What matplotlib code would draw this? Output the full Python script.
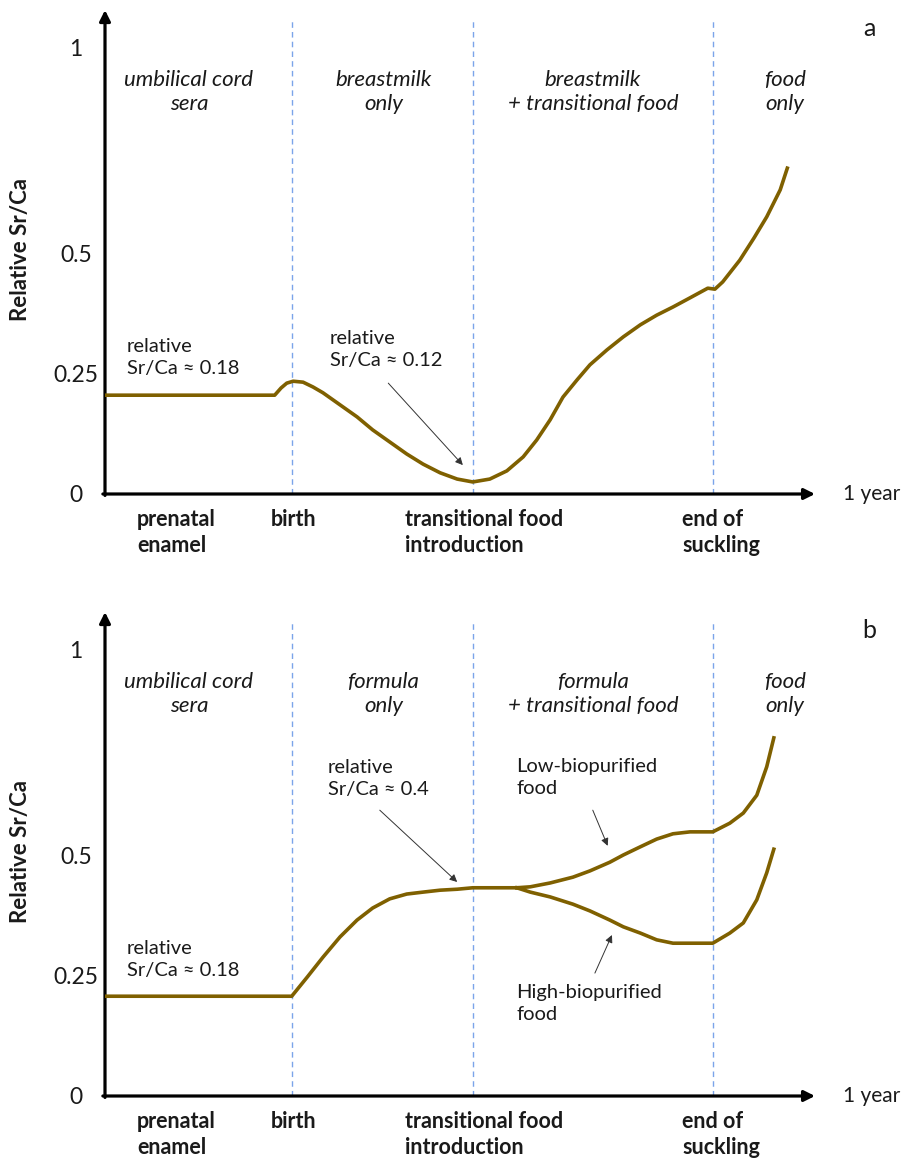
import matplotlib
matplotlib.use("Agg")
import matplotlib.pyplot as plt

plt.rcParams['font.family'] = ['Lato', 'DejaVu Sans']

# x is the fraction of the time axis (prenatal -> 1 year), y is relative Sr/Ca
# panel a: breastfed
a_x = [0.000, 0.239, 0.248, 0.256, 0.265, 0.279, 0.293, 0.307, 0.331, 0.355,
       0.377, 0.401, 0.425, 0.448, 0.472, 0.496, 0.518, 0.542, 0.566, 0.589,
       0.608, 0.627, 0.645, 0.665, 0.683, 0.707, 0.730, 0.754, 0.777, 0.800,
       0.824, 0.849, 0.859, 0.870, 0.894, 0.914, 0.932, 0.951, 0.961]
a_y = [0.205, 0.205, 0.220, 0.230, 0.234, 0.232, 0.222, 0.210, 0.185, 0.160,
       0.133, 0.108, 0.083, 0.062, 0.044, 0.031, 0.025, 0.031, 0.048, 0.077,
       0.112, 0.154, 0.201, 0.237, 0.268, 0.299, 0.326, 0.351, 0.371, 0.388,
       0.407, 0.427, 0.425, 0.440, 0.485, 0.531, 0.575, 0.631, 0.676]

# panel b: formula fed, common part then two branches
b_x = [0.000, 0.263, 0.285, 0.307, 0.331, 0.355, 0.377, 0.401, 0.425, 0.448,
       0.472, 0.496, 0.518, 0.552, 0.580]
b_y = [0.207, 0.207, 0.247, 0.288, 0.330, 0.365, 0.390, 0.409, 0.419, 0.423,
       0.427, 0.429, 0.432, 0.432, 0.432]
branch_x = [0.580, 0.599, 0.627, 0.659, 0.683, 0.711, 0.730, 0.754, 0.777, 0.800,
            0.824, 0.856, 0.880, 0.899, 0.918, 0.932, 0.942]
low_bio_y = [0.432, 0.434, 0.442, 0.454, 0.467, 0.485, 0.500, 0.517, 0.533, 0.544,
             0.548, 0.548, 0.566, 0.587, 0.624, 0.683, 0.743]
high_bio_y = [0.432, 0.423, 0.413, 0.398, 0.384, 0.365, 0.351, 0.338, 0.324, 0.317,
              0.317, 0.317, 0.338, 0.359, 0.407, 0.463, 0.512]

events = [0.263, 0.518, 0.856]  # birth, transitional food, end of suckling
ytick_pos = [0, 0.251, 0.5, 0.927]
ytick_lab = ['0', '0.25', '0.5', '1']

periods_a = ['umbilical cord\nsera', 'breastmilk\nonly', 'breastmilk\n+ transitional food', 'food\nonly']
periods_b = ['umbilical cord\nsera', 'formula\nonly', 'formula\n+ transitional food', 'food\nonly']
period_x = [0.118, 0.392, 0.687, 0.958]

CURVE = '#7f6000'
EVENT = '#4f86e3'
TXT = '#1a1a1a'
YTOP = 1.004

fig = plt.figure(figsize=(9.02, 11.58), dpi=100)


def make_panel(bottom_px, periods, letter):
    ax = fig.add_axes([105 / 902, (1158 - bottom_px) / 1158, 710 / 902, YTOP * 482 / 1158])
    ax.set_xlim(0, 1)
    ax.set_ylim(0, YTOP)
    for s in ax.spines.values():
        s.set_visible(False)
    ax.set_xticks([])
    ax.set_yticks(ytick_pos)
    ax.set_yticklabels(ytick_lab, fontsize=16.5, color=TXT)
    ax.tick_params(axis='y', length=0, pad=21)
    for lab in ax.get_yticklabels():
        lab.set_horizontalalignment('center')

    # arrow axes
    ax.annotate('', xy=(1.0, 0), xytext=(-0.003, 0), annotation_clip=False,
                arrowprops=dict(arrowstyle='-|>', lw=2.3, color='black', mutation_scale=16,
                                shrinkA=0, shrinkB=0))
    ax.annotate('', xy=(0, YTOP), xytext=(0, -0.003), annotation_clip=False,
                arrowprops=dict(arrowstyle='-|>', lw=2.3, color='black', mutation_scale=16,
                                shrinkA=0, shrinkB=0))

    for xe in events:
        ax.plot([xe, xe], [0, 0.985], color=EVENT, lw=1.0, ls=(0, (4, 3)), alpha=0.75, zorder=1)

    for xp, t in zip(period_x, periods):
        ax.text(xp, 0.834, t, ha='center', va='center', style='italic', fontsize=16,
                color=TXT, linespacing=1.25)

    bold = dict(va='center', fontweight='bold', fontsize=15.5, color=TXT, linespacing=1.25)
    ax.text(0.045, -0.080, 'prenatal\nenamel', ha='left', **bold)
    ax.text(0.265, -0.052, 'birth', ha='center', **bold)
    ax.text(0.423, -0.080, 'transitional food\nintroduction', ha='left', **bold)
    ax.text(0.813, -0.080, 'end of\nsuckling', ha='left', **bold)
    ax.text(1.039, 0, '1 year', ha='left', va='center', fontsize=15, color=TXT)
    ax.text(1.077, 0.965, letter, ha='center', va='center', fontsize=18, color=TXT)

    ax.text(0.031, 0.283, 'relative\nSr/Ca \u2248 0.18', ha='left', va='center', fontsize=14.5,
            color=TXT, linespacing=1.35)
    ax.set_ylabel('Relative Sr/Ca', fontsize=16, fontweight='bold', color=TXT)
    ax.yaxis.set_label_coords(-74 / 710, 0.505)
    return ax


arrow_kw = dict(arrowstyle='-|>', lw=0.7, color='#333333', mutation_scale=11, shrinkA=0, shrinkB=0)
note = dict(ha='left', va='center', fontsize=14.5, color=TXT, linespacing=1.35)

ax_a = make_panel(494, periods_a, 'a')
ax_a.plot(a_x, a_y, color=CURVE, lw=2.6, solid_joinstyle='round', zorder=3)
ax_a.text(0.317, 0.299, 'relative\nSr/Ca \u2248 0.12', **note)
ax_a.annotate('', xy=(0.504, 0.060), xytext=(0.399, 0.230), arrowprops=arrow_kw)

ax_b = make_panel(1096, periods_b, 'b')
ax_b.plot(b_x, b_y, color=CURVE, lw=2.6, solid_joinstyle='round', zorder=3)
ax_b.plot(branch_x, low_bio_y, color=CURVE, lw=2.6, solid_joinstyle='round', zorder=3)
ax_b.plot(branch_x, high_bio_y, color=CURVE, lw=2.6, solid_joinstyle='round', zorder=3)
ax_b.text(0.314, 0.658, 'relative\nSr/Ca \u2248 0.4', **note)
ax_b.annotate('', xy=(0.496, 0.444), xytext=(0.387, 0.593), arrowprops=arrow_kw)
ax_b.text(0.579, 0.660, 'Low-biopurified\nfood', **note)
ax_b.annotate('', xy=(0.708, 0.519), xytext=(0.687, 0.593), arrowprops=arrow_kw)
ax_b.text(0.579, 0.192, 'High-biopurified\nfood', **note)
ax_b.annotate('', xy=(0.714, 0.334), xytext=(0.690, 0.255), arrowprops=arrow_kw)

fig.savefig('out.png', dpi=100, facecolor='white')
